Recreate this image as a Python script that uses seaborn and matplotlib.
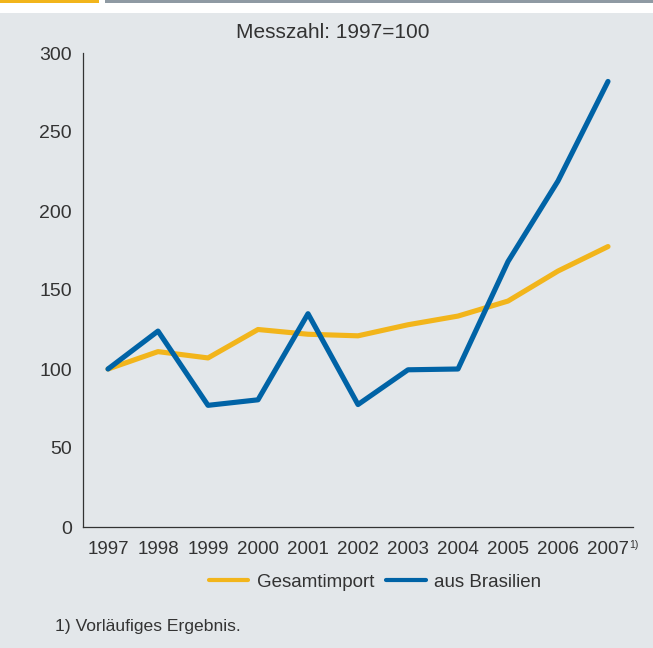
import matplotlib
matplotlib.use("Agg")
import matplotlib.pyplot as plt
import seaborn as sns
import pandas as pd
from matplotlib.patches import Rectangle
from matplotlib.ticker import FixedLocator

years = ["1997", "1998", "1999", "2000", "2001", "2002", "2003", "2004", "2005", "2006", "2007"]
gesamtimport = [100, 111, 107, 125, 122, 121, 128, 133.5, 143, 162, 177.5]
aus_brasilien = [100, 124, 77, 80.5, 135, 77.5, 99.5, 100, 168, 219, 282]
series_names = ["Gesamtimport", "aus Brasilien"]
colors = ["#f2b51b", "#0063a6"]

df = pd.DataFrame({
    "x": list(range(len(years))) * 2,
    "value": gesamtimport + aus_brasilien,
    "series": [series_names[0]] * len(years) + [series_names[1]] * len(years),
})

sns.set_theme(style="white")
plt.rcParams["font.family"] = ["Liberation Sans", "DejaVu Sans"]
txt = "#333333"
bg = "#e3e7ea"

fig = plt.figure(figsize=(6.53, 6.48), dpi=100, facecolor="white")
# background panel and top bars
fig.patches.append(Rectangle((0, 0), 1, 1 - 12.5 / 648, transform=fig.transFigure,
                             facecolor=bg, edgecolor="none", zorder=-10))
fig.patches.append(Rectangle((0, 1 - 3.3 / 648), 99 / 653, 3.3 / 648, transform=fig.transFigure,
                             facecolor="#f2b51b", edgecolor="none"))
fig.patches.append(Rectangle((105 / 653, 1 - 3.3 / 648), 1, 3.3 / 648, transform=fig.transFigure,
                             facecolor="#8f9aa3", edgecolor="none"))

ax = fig.add_axes([83 / 653, 1 - 527 / 648, 550 / 653, (527 - 53) / 648])
ax.set_facecolor("none")
sns.lineplot(data=df, x="x", y="value", hue="series", palette=colors, linewidth=3.7,
             ax=ax, legend=True)

ax.set_xlim(-0.5, len(years) - 0.5)
ax.set_ylim(0, 300)
ax.set_yticks([0, 50, 100, 150, 200, 250, 300])
ax.set_xticks(range(len(years)))
ax.set_xticklabels(years)
ax.xaxis.set_minor_locator(FixedLocator([i - 0.5 for i in range(len(years) + 1)]))
ax.tick_params(axis="x", which="major", length=0, labelsize=13.5, labelcolor=txt, pad=10)
ax.tick_params(axis="x", which="minor", length=5, width=0.8, color=txt, direction="out")
ax.tick_params(axis="y", which="major", length=4, width=0.8, color=txt, labelsize=14,
               labelcolor=txt, direction="out", pad=4)
for s in ["top", "right"]:
    ax.spines[s].set_visible(False)
for s in ["left", "bottom"]:
    ax.spines[s].set_color(txt)
    ax.spines[s].set_linewidth(0.9)
ax.set_xlabel("")
ax.set_ylabel("")

# superscript footnote marker on 2007
ax.annotate("1)", xy=(len(years) - 1 + 0.43, 0), xycoords=("data", "axes fraction"),
            xytext=(0, -13), textcoords="offset pixels", fontsize=7.5, color=txt,
            ha="left", va="top", annotation_clip=False)

fig.text(333 / 653, 1 - 32 / 648, "Messzahl: 1997=100", ha="center", va="center",
         fontsize=15, color=txt)

leg = ax.legend(loc="center", bbox_to_anchor=(375 / 653, 1 - 582 / 648),
                bbox_transform=fig.transFigure, ncol=2, frameon=False, fontsize=13.5,
                handlelength=2.1, handletextpad=0.45, columnspacing=0.65)
for t in leg.get_texts():
    t.set_color(txt)
for h in leg.get_lines():
    h.set_linewidth(3.0)

fig.text(55 / 653, 1 - 626 / 648, "1) Vorläufiges Ergebnis.", ha="left", va="center",
         fontsize=12.6, color=txt)

fig.savefig("out.png", dpi=100, facecolor=fig.get_facecolor())
